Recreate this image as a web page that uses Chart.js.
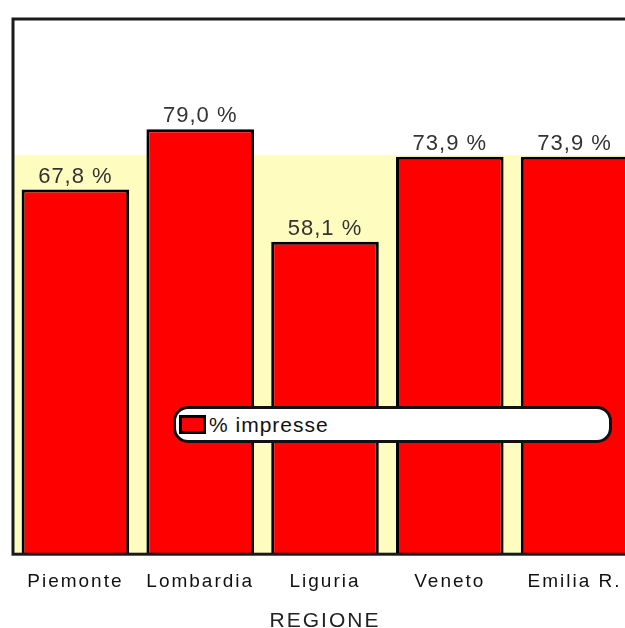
<!DOCTYPE html>
<html>
<head>
<meta charset="utf-8">
<script src="https://cdn.jsdelivr.net/npm/chart.js@4"></script>
<style>
  html, body { margin: 0; padding: 0; overflow: hidden; background: #fff; }
  #wrap { position: relative; width: 640px; height: 628px; }
  #legend {
    position: absolute; left: 173px; top: 406px; width: 433px; height: 31px;
    border: 3px solid #111; border-radius: 15px; background: #fff;
    font-family: "Liberation Sans", Arial, sans-serif; font-size: 21px;
    letter-spacing: 1px; color: #111; display: flex; align-items: center;
  }
  #legend .box {
    width: 21px; height: 13px; border: 3px solid #000; margin: 0 3px 0 3px;
  }
</style>
</head>
<body>
<div id="wrap">
  <canvas id="regioni" width="640" height="628"></canvas>
  <div id="legend"></div>
</div>
<script>
// data
const regioni = ["Piemonte", "Lombardia", "Liguria", "Veneto", "Emilia R."];
const impresse = [67.8, 79.0, 58.1, 73.9, 73.9];
const serieLabel = "% impresse";
const fascia = 74.2; // top of the yellow background band

// yellow band + frame around the plot
const sfondo = {
    id: "sfondo",
    beforeDatasetsDraw(chart) {
        const ctx = chart.ctx, a = chart.chartArea, y = chart.scales.y;
        ctx.save();
        ctx.fillStyle = "#fffcc0";
        ctx.fillRect(a.left, y.getPixelForValue(fascia), a.right - a.left, a.bottom - y.getPixelForValue(fascia));
        ctx.restore();
    },
    afterDatasetsDraw(chart) {
        const ctx = chart.ctx, a = chart.chartArea;
        ctx.save();
        ctx.strokeStyle = "#1a1a1a";
        ctx.lineWidth = 3;
        ctx.strokeRect(a.left, a.top, a.right - a.left, a.bottom - a.top);

        // value labels above bars
        ctx.font = "22px 'Liberation Sans', Arial, sans-serif";
        ctx.letterSpacing = "1px";
        ctx.fillStyle = "#333";
        ctx.textAlign = "center";
        ctx.textBaseline = "alphabetic";
        chart.getDatasetMeta(0).data.forEach((bar, i) => {
            let txt = impresse[i].toFixed(1).replace(".", ",") + " %";
            ctx.fillText(txt, bar.x, bar.y - 7);
        });
        ctx.restore();
    },
    beforeUpdate(chart) { chart.ctx.letterSpacing = "2px"; },
    beforeDraw(chart) { chart.ctx.letterSpacing = "2px"; }
};

const chart = new Chart("regioni", {
    type: "bar",
    data: {
        labels: regioni,
        datasets: [{
            label: serieLabel,
            data: impresse,
            backgroundColor: "#ff0000",
            borderColor: "#000",
            borderWidth: 3,
            barPercentage: 0.862,
            categoryPercentage: 1
        }]
    },
    options: {
        responsive: false,
        animation: false,
        layout: { padding: { left: 13, top: 19, right: 3, bottom: -4 } },
        plugins: {
            legend: { display: false },
            tooltip: { enabled: false }
        },
        scales: {
            x: {
                grid: { display: false, drawTicks: false },
                border: { display: false },
                ticks: {
                    padding: 16,
                    color: "#111",
                    font: { family: "'Liberation Sans', Arial, sans-serif", size: 19 }
                },
                title: {
                    display: true,
                    text: "REGIONE",
                    color: "#222",
                    padding: { top: 2, bottom: 0 },
                    font: { family: "'Liberation Sans', Arial, sans-serif", size: 21, lineHeight: 1 }
                }
            },
            y: {
                display: false,
                min: 0,
                max: 99.5
            }
        }
    },
    plugins: [sfondo]
});

// html legend from the dataset
const ds = chart.data.datasets[0];
document.getElementById("legend").innerHTML =
    '<span class="box" style="background:' + ds.backgroundColor + '"></span>' + ds.label;
</script>
</body>
</html>
